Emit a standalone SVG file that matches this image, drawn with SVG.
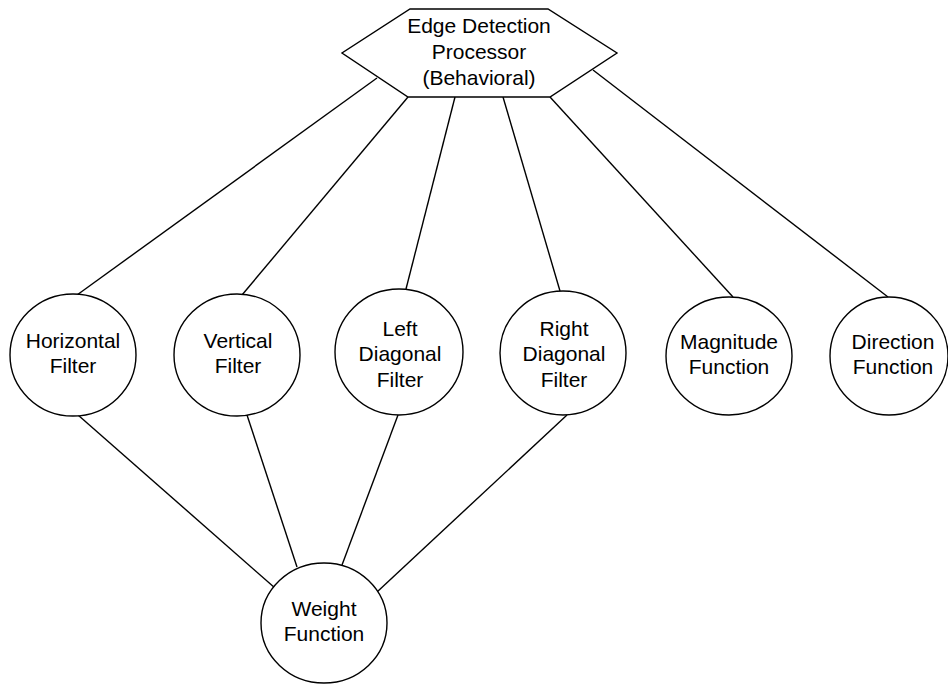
<svg xmlns="http://www.w3.org/2000/svg" width="948" height="684" viewBox="0 0 948 684">
  <style>
    .shape { fill: #ffffff; stroke: #000000; stroke-width: 1.4; }
    .edge { stroke: #000000; stroke-width: 1.4; fill: none; }
    text { font-family: "Liberation Sans", Arial, sans-serif; font-size: 21px; fill: #000000; text-anchor: middle; }
  </style>
  <rect width="948" height="684" fill="#ffffff"/>

  <g id="connectors">
    <!-- processor to sub-blocks -->
    <line class="edge" x1="377" y1="78" x2="77" y2="295"/>
    <line class="edge" x1="408" y1="97" x2="242" y2="295"/>
    <line class="edge" x1="455" y1="97" x2="406" y2="289"/>
    <line class="edge" x1="503" y1="97" x2="560" y2="291"/>
    <line class="edge" x1="550" y1="97" x2="733" y2="297"/>
    <line class="edge" x1="593" y1="70" x2="888" y2="297"/>
    <!-- filters to weight function -->
    <line class="edge" x1="78" y1="415" x2="275" y2="588"/>
    <line class="edge" x1="247" y1="415" x2="297" y2="567"/>
    <line class="edge" x1="398" y1="415" x2="342" y2="565"/>
    <line class="edge" x1="567" y1="415" x2="377" y2="592"/>
  </g>

  <g id="edge-detection-processor">
    <polygon class="shape" points="410,9 548,9 617,53 550,97 408,97 342,53"/>
    <text x="479" y="33">Edge Detection</text>
    <text x="479" y="59">Processor</text>
    <text x="479" y="85">(Behavioral)</text>
  </g>

  <g id="horizontal-filter">
    <ellipse class="shape" cx="73" cy="355" rx="63" ry="61"/>
    <text x="73" y="348">Horizontal</text>
    <text x="73" y="373">Filter</text>
  </g>

  <g id="vertical-filter">
    <ellipse class="shape" cx="237" cy="355" rx="63" ry="61"/>
    <text x="238" y="348">Vertical</text>
    <text x="238" y="373">Filter</text>
  </g>

  <g id="left-diagonal-filter">
    <ellipse class="shape" cx="399" cy="352" rx="64" ry="63"/>
    <text x="400" y="336">Left</text>
    <text x="400" y="361">Diagonal</text>
    <text x="400" y="387">Filter</text>
  </g>

  <g id="right-diagonal-filter">
    <ellipse class="shape" cx="563" cy="353" rx="63" ry="62"/>
    <text x="564" y="336">Right</text>
    <text x="564" y="361">Diagonal</text>
    <text x="564" y="387">Filter</text>
  </g>

  <g id="magnitude-function">
    <ellipse class="shape" cx="729" cy="356" rx="63" ry="59"/>
    <text x="729" y="349">Magnitude</text>
    <text x="729" y="374">Function</text>
  </g>

  <g id="direction-function">
    <ellipse class="shape" cx="889" cy="356" rx="59" ry="59"/>
    <text x="893" y="349">Direction</text>
    <text x="893" y="374">Function</text>
  </g>

  <g id="weight-function">
    <ellipse class="shape" cx="324" cy="623" rx="63" ry="60"/>
    <text x="324" y="616">Weight</text>
    <text x="324" y="641">Function</text>
  </g>
</svg>
